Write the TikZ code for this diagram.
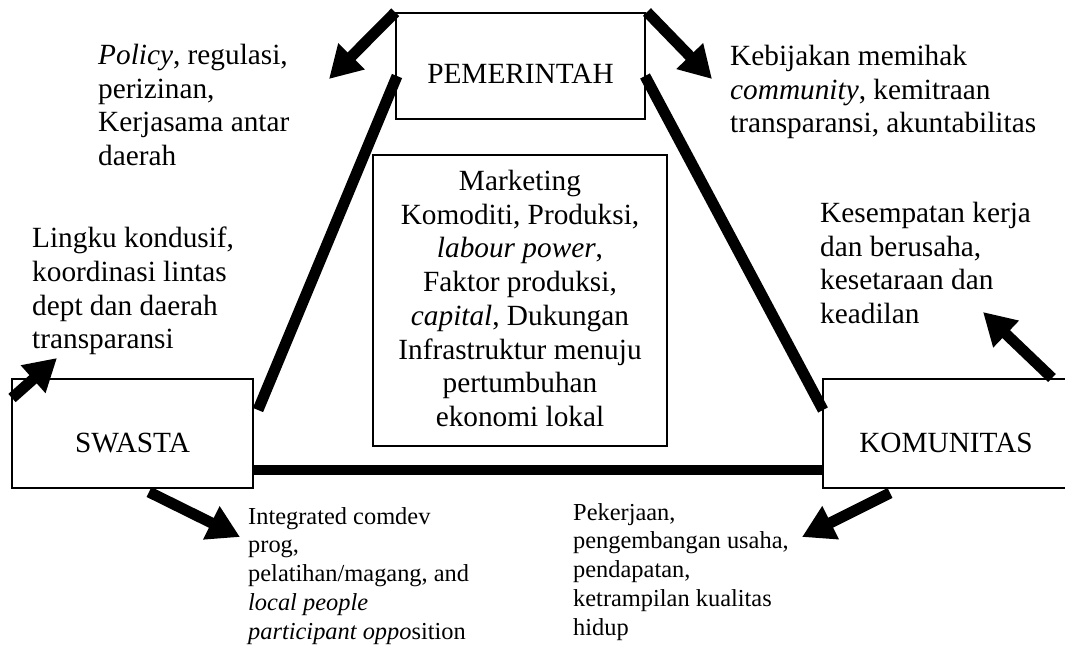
\documentclass[tikz,border=0pt]{standalone}
\usepackage{fontspec}
\setmainfont{Liberation Serif}
\usetikzlibrary{arrows.meta}
\begin{document}
\begin{tikzpicture}[x=1pt,y=-1pt,
  box/.style={draw,line width=1.5pt,inner sep=0pt},
  big/.style={font=\fontsize{29.3}{33.7}\selectfont},
  small/.style={font=\fontsize{24.4}{28.8}\selectfont},
  bar/.style={line width=11pt},
  fat/.style={line width=11pt,-{Triangle[length=32pt,width=35pt]}},
  txt/.style={inner sep=0pt,align=left,anchor=north west},
]
\useasboundingbox (0,0) rectangle (1065,646);
% boxes
\node[box,minimum width=249pt,minimum height=106pt] (pem) at (520.5,66) {};
\node[box,minimum width=294pt,minimum height=291pt] (mid) at (520,300.5) {};
\node[box,minimum width=241pt,minimum height=109pt] (swa) at (132.5,433.5) {};
\node[box,minimum width=252pt,minimum height=109pt] (kom) at (949,433.5) {};
% box texts
\node[big,anchor=base,inner sep=0pt] (pemt) at (520.5,83) {PEMERINTAH};
\node[big,anchor=base,inner sep=0pt] (swat) at (132.5,452) {SWASTA};
\node[big,anchor=base,inner sep=0pt] (komt) at (946,452) {KOMUNITAS};
\node[big,align=center,inner sep=0pt,anchor=north] (midt) at (520,170) {Marketing\\Komoditi, Produksi,\\\textit{labour power},\\Faktor produksi,\\\textit{capital}, Dukungan\\Infrastruktur menuju\\pertumbuhan\\ekonomi lokal};
% outer texts
\node[big,txt] (policy) at (98,44) {\textit{Policy}, regulasi,\\perizinan,\\Kerjasama antar\\daerah};
\node[big,txt] (kebij) at (730,45) {Kebijakan memihak\\\textit{community}, kemitraan\\transparansi, akuntabilitas};
\node[big,txt] (lingku) at (32,227) {Lingku kondusif,\\koordinasi lintas\\dept dan daerah\\transparansi};
\node[big,txt] (kesem) at (820,202) {Kesempatan kerja\\dan berusaha,\\kesetaraan dan\\keadilan};
\node[small,txt] (integ) at (248,507) {Integrated comdev\\prog,\\pelatihan/magang, and\\\textit{local people}\\\textit{participant oppo}sition};
\node[small,txt] (peker) at (573,503) {Pekerjaan,\\pengembangan usaha,\\pendapatan,\\ketrampilan kualitas\\hidup};
% connector end points
\coordinate (swaTop) at (258,410);
\coordinate (pemL) at (397,76);
\coordinate (pemR) at (645,76);
\coordinate (komTop) at (823,410);
\coordinate (a1) at (329,79);
\coordinate (a2s) at (647,12);
\coordinate (a2) at (712,79);
\coordinate (a3s) at (12,398);
\coordinate (a3) at (57,358);
\coordinate (a4s) at (149,492);
\coordinate (a4) at (240,537);
\coordinate (a5s) at (890,493);
\coordinate (a5) at (802,537);
\coordinate (a6s) at (1052,378);
\coordinate (a6) at (983,312);
% triangle sides
\draw[bar] (swaTop) -- (pemL);
\draw[bar] (pemR) -- (komTop);
\draw[line width=10.5pt] (swa.east |- 0,470) -- (kom.west |- 0,470);
% arrows
\draw[fat] (pem.north west) -- (a1);
\draw[fat] (a2s) -- (a2);
\draw[fat] (a3s) -- (a3);
\draw[fat] (a4s) -- (a4);
\draw[fat] (a5s) -- (a5);
\draw[fat] (a6s) -- (a6);
\end{tikzpicture}
\end{document}
